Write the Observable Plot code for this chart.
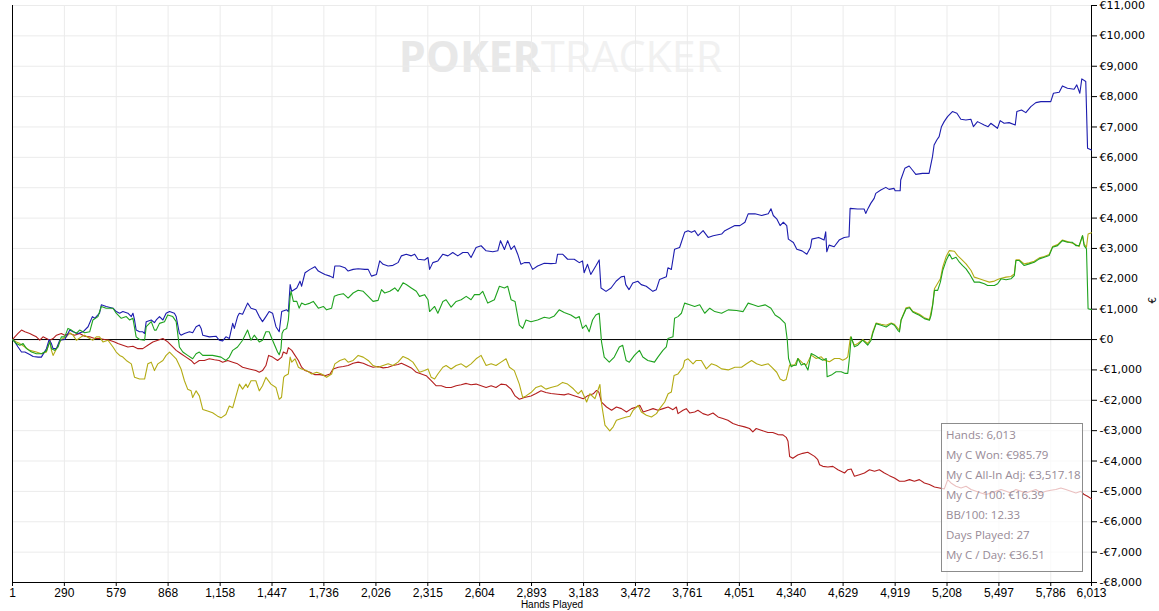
<!DOCTYPE html>
<html>
<head>
<meta charset="utf-8">
<script src="https://cdn.jsdelivr.net/npm/d3@7"></script>
<script src="https://cdn.jsdelivr.net/npm/@observablehq/plot@0.6"></script>
<style>
  html, body { margin: 0; padding: 0; background: #ffffff; }
  #wrap { position: relative; width: 1159px; height: 611px; overflow: hidden; }
  #wrap svg { position: absolute; left: 0; top: 0; }
  g[aria-label="x-axis tick label"] text { font-family: "Liberation Sans Narrow", "Liberation Sans", Arial, sans-serif; font-size: 12px; }
  g[aria-label="y-axis tick label"] text { font-family: "DejaVu Sans", sans-serif; font-size: 11px; }
  #stats { position: absolute; left: 941px; top: 423px; width: 140px; height: 147px;
    border: 1.5px solid #8c8c8c; background: rgba(255,255,255,0.72);
    font-family: "Open Sans", "Noto Sans", sans-serif; font-size: 11.5px; color: #978a96; }
  #stats div { position: absolute; left: 4px; white-space: nowrap; }
</style>
</head>
<body>
<div id="wrap"></div>
<script>
// ---- data -------------------------------------------------------------
const xTicks = [1, 290, 579, 868, 1158, 1447, 1736, 2026, 2315, 2604, 2893, 3183, 3472, 3761, 4051, 4340, 4629, 4919, 5208, 5497, 5786, 6013];
const yTicks = [-8000, -7000, -6000, -5000, -4000, -3000, -2000, -1000, 0, 1000, 2000, 3000, 4000, 5000, 6000, 7000, 8000, 9000, 10000, 11000];

const seriesNames = ["Showdown Won", "Non-Showdown Won", "All-In Adj", "My C Won"];
const seriesColors = ["#1c1cae", "#b31e1e", "#b3ab14", "#1fa31f"];

const statsLines = ["Hands: 6,013", "My C Won: €985.79", "My C All-In Adj: €3,517.18", "My C / 100: €16.39", "BB/100: 12.33", "Days Played: 27", "My C / Day: €36.51"];

// [hands played, €]
const showdownWon = [[1,0],[14,-78],[32,-244],[51,-411],[70,-411],[97,-489],[116,-556],[144,-578],[162,-578],[171,-489],[190,-300],[205,0],[218,-133],[227,-300],[246,-300],[264,-22],[292,0],[320,311],[338,256],[366,200],[394,256],[422,422],[446,756],[459,700],[486,867],[496,1144],[523,1089],[561,1033],[579,922],[598,867],[616,922],[644,867],[663,756],[672,867],[681,644],[690,311],[709,256],[727,256],[737,200],[746,589],[774,644],[792,556],[802,644],[820,756],[839,644],[857,867],[876,922],[903,867],[913,756],[931,200],[940,144],[959,200],[987,256],[1005,222],[1024,422],[1042,478],[1052,367],[1061,144],[1098,89],[1135,111],[1153,-22],[1172,-44],[1190,89],[1209,33],[1228,533],[1237,367],[1255,756],[1265,867],[1283,833],[1311,1200],[1330,1033],[1357,978],[1376,756],[1394,589],[1413,756],[1431,922],[1450,867],[1469,422],[1487,256],[1501,922],[1529,978],[1538,922],[1548,1811],[1557,1589],[1585,1700],[1603,1922],[1612,1756],[1631,2200],[1659,2311],[1686,2400],[1705,2256],[1723,2200],[1742,2144],[1770,2089],[1788,2033],[1797,2422],[1825,2422],[1853,2367],[1871,2256],[1899,2311],[1927,2333],[1964,2311],[1983,2311],[2001,2089],[2029,2144],[2047,2589],[2066,2478],[2094,2422],[2121,2444],[2149,2533],[2168,2756],[2195,2811],[2223,2756],[2242,2811],[2260,2644],[2297,2622],[2316,2700],[2325,2311],[2343,2533],[2371,2589],[2399,2811],[2427,2756],[2454,2867],[2482,2756],[2510,2867],[2538,2867],[2556,2700],[2584,3033],[2612,3089],[2640,2922],[2677,2889],[2705,2922],[2720,3256],[2742,2967],[2760,3256],[2779,2967],[2797,3089],[2816,2811],[2834,2478],[2853,2533],[2881,2533],[2899,2311],[2927,2422],[2964,2511],[3001,2500],[3029,2511],[3038,2811],[3066,2811],[3094,2644],[3131,2644],[3159,2533],[3177,2589],[3186,2200],[3205,2478],[3223,2144],[3251,2422],[3270,2622],[3280,1698],[3308,1587],[3336,1698],[3364,1920],[3392,2065],[3410,2087],[3418,1809],[3436,1643],[3457,1865],[3485,1920],[3504,1809],[3532,1754],[3569,1587],[3588,1643],[3606,1976],[3644,2065],[3653,2364],[3672,2309],[3690,2975],[3718,3030],[3746,3530],[3765,3585],[3784,3530],[3802,3585],[3821,3419],[3849,3585],[3877,3363],[3905,3419],[3952,3474],[3970,3585],[4026,3752],[4054,3752],[4082,3863],[4100,4140],[4138,4140],[4175,4085],[4212,4140],[4227,4307],[4240,4085],[4259,3974],[4278,3752],[4296,3863],[4315,3752],[4324,3308],[4352,3197],[4371,2975],[4400,2920],[4427,2808],[4447,3030],[4455,3308],[4493,3363],[4523,3275],[4532,3550],[4538,2890],[4551,3110],[4579,3055],[4607,3275],[4635,3363],[4662,3385],[4668,4319],[4709,4297],[4746,4297],[4755,4154],[4768,4319],[4783,4484],[4802,4649],[4811,4814],[4839,4923],[4867,5011],[4885,4945],[4913,4978],[4919,4901],[4947,4901],[4950,5253],[4973,5638],[4997,5714],[5015,5583],[5034,5440],[5071,5473],[5108,5473],[5127,6022],[5136,6407],[5151,6572],[5164,6682],[5177,7011],[5192,7176],[5211,7341],[5238,7506],[5263,7451],[5285,7253],[5313,7231],[5341,7253],[5355,7011],[5378,7176],[5415,7066],[5437,7011],[5452,7121],[5489,6956],[5504,7209],[5526,7121],[5554,7143],[5588,7066],[5597,7506],[5623,7561],[5647,7473],[5675,7671],[5703,7803],[5731,7836],[5786,7836],[5801,8111],[5833,8143],[5851,8352],[5879,8275],[5916,8242],[5931,8385],[5948,8111],[5959,8583],[5981,8495],[5991,6297],[6013,6242]];

const nonShowdownWon = [[1,0],[14,89],[32,200],[51,311],[70,256],[97,200],[116,144],[134,89],[153,-22],[171,89],[190,33],[209,-22],[227,33],[246,144],[273,200],[292,144],[320,200],[347,144],[375,200],[403,111],[431,89],[459,33],[486,33],[514,0],[542,-22],[570,-78],[588,-133],[616,-189],[644,-244],[672,-222],[700,-300],[727,-300],[755,-189],[783,-78],[811,-22],[839,33],[866,-78],[894,-244],[913,-356],[940,-467],[968,-578],[996,-689],[1014,-800],[1042,-689],[1070,-689],[1098,-633],[1126,-667],[1153,-689],[1172,-744],[1200,-689],[1228,-744],[1255,-800],[1283,-911],[1320,-967],[1357,-1022],[1376,-1078],[1394,-1022],[1413,-856],[1428,-522],[1450,-578],[1478,-689],[1501,-578],[1510,-411],[1529,-467],[1538,-267],[1557,-356],[1575,-522],[1594,-689],[1612,-911],[1631,-1022],[1659,-1078],[1686,-1156],[1714,-1156],[1742,-1189],[1770,-1133],[1788,-967],[1816,-911],[1844,-889],[1871,-856],[1899,-778],[1927,-744],[1955,-778],[1983,-856],[2010,-911],[2038,-889],[2066,-933],[2094,-911],[2121,-856],[2149,-822],[2168,-778],[2195,-856],[2223,-933],[2251,-1078],[2279,-1133],[2306,-1189],[2334,-1356],[2362,-1522],[2390,-1522],[2417,-1578],[2445,-1578],[2473,-1522],[2501,-1489],[2529,-1444],[2556,-1489],[2584,-1467],[2612,-1522],[2640,-1578],[2668,-1522],[2695,-1578],[2723,-1467],[2751,-1489],[2779,-1633],[2801,-1856],[2825,-1967],[2853,-1911],[2890,-1856],[2918,-1778],[2946,-1689],[2973,-1744],[3001,-1778],[3038,-1800],[3075,-1822],[3098,-1785],[3126,-1839],[3153,-1894],[3181,-1948],[3209,-1839],[3237,-1785],[3255,-1676],[3268,-1730],[3283,-2057],[3311,-2221],[3339,-2330],[3366,-2221],[3394,-2275],[3422,-2384],[3450,-2275],[3478,-2221],[3496,-2166],[3515,-2384],[3544,-2330],[3570,-2275],[3598,-2330],[3626,-2275],[3654,-2221],[3681,-2308],[3700,-2221],[3709,-2439],[3737,-2330],[3755,-2275],[3774,-2417],[3802,-2384],[3820,-2330],[3848,-2439],[3876,-2493],[3904,-2417],[3932,-2548],[3959,-2602],[3987,-2657],[4015,-2766],[4043,-2820],[4080,-2875],[4108,-2929],[4126,-3038],[4145,-2929],[4172,-2984],[4210,-3060],[4237,-3060],[4266,-3130],[4294,-3140],[4312,-3220],[4322,-3350],[4331,-3850],[4349,-3911],[4376,-3802],[4404,-3747],[4432,-3710],[4470,-3847],[4488,-3957],[4498,-4121],[4516,-4175],[4544,-4197],[4572,-4175],[4600,-4285],[4637,-4394],[4655,-4285],[4674,-4263],[4692,-4503],[4720,-4449],[4748,-4394],[4776,-4285],[4804,-4339],[4831,-4285],[4859,-4394],[4887,-4481],[4915,-4558],[4943,-4667],[4971,-4667],[4999,-4612],[5026,-4667],[5054,-4612],[5082,-4722],[5110,-4776],[5138,-4853],[5166,-4886],[5193,-4918],[5212,-4612],[5230,-4722],[5258,-4831],[5286,-4886],[5314,-4831],[5342,-4940],[5370,-4995],[5397,-5050],[5425,-5104],[5453,-5050],[5481,-4995],[5509,-4940],[5537,-4995],[5564,-5050],[5592,-4940],[5620,-4995],[5648,-5050],[5675,-4995],[5703,-4940],[5731,-5050],[5759,-4995],[5787,-4962],[5814,-4940],[5842,-4886],[5870,-4940],[5898,-4995],[5926,-5050],[5954,-4995],[5972,-5104],[5991,-5159],[6013,-5246]];

const allInAdj = [[1,0],[23,-78],[42,-133],[70,-244],[97,-356],[134,-411],[162,-467],[190,-411],[209,-22],[218,-356],[227,-522],[242,-356],[255,-189],[273,0],[301,89],[320,222],[338,144],[357,-22],[384,89],[403,144],[431,33],[449,-22],[468,89],[486,89],[505,-78],[533,-22],[561,-244],[579,-411],[598,-522],[616,-578],[635,-689],[663,-800],[681,-1244],[709,-1300],[737,-1300],[755,-800],[774,-744],[792,-1022],[811,-800],[839,-689],[857,-522],[876,-411],[894,-522],[913,-633],[940,-967],[959,-1356],[977,-1633],[996,-1689],[1005,-1911],[1024,-1689],[1042,-1856],[1061,-2300],[1088,-2356],[1116,-2411],[1144,-2522],[1163,-2578],[1190,-2467],[1209,-2189],[1228,-2244],[1265,-1467],[1283,-1633],[1302,-1467],[1311,-1578],[1330,-1356],[1357,-1356],[1376,-1689],[1394,-1522],[1413,-1244],[1441,-1467],[1469,-1578],[1487,-1967],[1500,-1900],[1512,-1244],[1520,-1189],[1538,-1133],[1548,-578],[1557,-744],[1575,-633],[1594,-911],[1612,-967],[1640,-1022],[1668,-1133],[1696,-1078],[1723,-1133],[1751,-1244],[1779,-1133],[1797,-800],[1825,-689],[1853,-633],[1871,-744],[1899,-689],[1927,-522],[1955,-578],[1983,-689],[2010,-856],[2038,-911],[2066,-856],[2094,-800],[2121,-856],[2149,-744],[2177,-556],[2205,-633],[2232,-744],[2251,-911],[2269,-1078],[2297,-1022],[2316,-967],[2334,-1244],[2353,-1300],[2371,-1133],[2399,-911],[2417,-856],[2445,-967],[2473,-856],[2501,-800],[2529,-911],[2556,-800],[2584,-633],[2612,-522],[2640,-856],[2668,-800],[2695,-856],[2723,-744],[2751,-633],[2770,-911],[2797,-1022],[2825,-1467],[2844,-1911],[2862,-1856],[2890,-1744],[2918,-1578],[2946,-1522],[2973,-1633],[3001,-1578],[3038,-1522],[3066,-1411],[3094,-1467],[3126,-1621],[3153,-1785],[3172,-1676],[3200,-2057],[3218,-1785],[3246,-1948],[3274,-1480],[3283,-2112],[3302,-2820],[3329,-3006],[3348,-2875],[3366,-2657],[3394,-2602],[3422,-2548],[3441,-2526],[3459,-2330],[3487,-2166],[3505,-2384],[3533,-2493],[3561,-2548],[3589,-2439],[3607,-2275],[3635,-2057],[3654,-1785],[3672,-1730],[3687,-1185],[3709,-1131],[3737,-913],[3746,-688],[3765,-633],[3793,-799],[3811,-688],[3839,-688],[3867,-966],[3895,-799],[3923,-855],[3952,-966],[3989,-999],[4026,-910],[4063,-910],[4091,-799],[4119,-688],[4147,-799],[4175,-855],[4212,-799],[4231,-910],[4259,-1077],[4278,-1299],[4296,-1354],[4312,-1312],[4331,-842],[4359,-842],[4377,-623],[4405,-787],[4424,-842],[4451,-514],[4479,-623],[4507,-568],[4525,-678],[4553,-732],[4581,-623],[4609,-623],[4627,-678],[4646,-623],[4655,-568],[4670,87],[4692,-186],[4711,-131],[4738,0],[4766,-131],[4785,33],[4794,251],[4813,547],[4841,503],[4869,470],[4897,547],[4915,503],[4943,306],[4952,656],[4980,1049],[4999,1071],[5017,929],[5054,831],[5082,721],[5110,656],[5128,1159],[5138,1672],[5171,2000],[5184,2383],[5203,2733],[5221,2929],[5249,2907],[5267,2765],[5286,2656],[5314,2492],[5342,2273],[5360,2055],[5388,2000],[5416,1946],[5444,1891],[5472,1924],[5500,2000],[5537,2055],[5564,2077],[5583,2164],[5592,2623],[5611,2623],[5638,2492],[5666,2525],[5694,2580],[5722,2689],[5750,2733],[5777,2798],[5796,3060],[5824,3126],[5851,3279],[5879,3224],[5907,3170],[5926,3126],[5944,3060],[5963,3421],[5972,3148],[5985,3039],[5994,3476],[6013,3517]];

const myCWon = [[1,0],[23,-133],[42,-189],[60,-133],[79,-300],[107,-411],[134,-467],[162,-467],[190,-378],[209,-78],[218,-300],[236,-356],[255,-244],[273,89],[292,89],[310,367],[329,311],[357,200],[375,311],[403,222],[431,256],[449,644],[477,756],[496,1089],[523,1033],[561,1033],[579,867],[607,700],[635,756],[653,644],[672,700],[690,89],[709,0],[737,-22],[746,422],[774,589],[792,311],[802,311],[820,533],[848,589],[866,811],[894,756],[913,589],[931,-244],[950,-411],[977,-522],[1005,-633],[1024,-467],[1042,-411],[1061,-522],[1116,-522],[1163,-578],[1190,-689],[1209,-578],[1228,-356],[1255,-244],[1283,-22],[1311,311],[1330,-22],[1348,144],[1376,-78],[1394,-22],[1413,256],[1431,256],[1450,-22],[1478,-411],[1487,-500],[1497,-300],[1503,200],[1512,311],[1529,367],[1538,644],[1548,1422],[1553,1589],[1566,1256],[1585,1256],[1598,1033],[1612,1200],[1631,1144],[1659,1200],[1677,1256],[1705,1033],[1733,1089],[1751,978],[1779,1033],[1794,1422],[1816,1478],[1844,1511],[1871,1367],[1899,1533],[1927,1622],[1955,1589],[1983,1422],[2010,1256],[2038,1289],[2057,1644],[2075,1533],[2103,1589],[2131,1700],[2149,1589],[2177,1867],[2195,1811],[2223,1700],[2251,1589],[2269,1422],[2297,1478],[2316,1311],[2325,922],[2353,1089],[2371,867],[2399,1256],[2417,1311],[2445,1067],[2473,1256],[2501,1311],[2529,1422],[2556,1311],[2575,1478],[2603,1478],[2621,1589],[2649,1200],[2686,1311],[2714,1756],[2742,1700],[2760,1756],[2779,1311],[2801,1256],[2825,478],[2844,367],[2862,644],[2890,589],[2927,644],[2964,733],[2992,700],[3020,778],[3047,978],[3075,889],[3112,811],[3140,700],[3159,756],[3177,367],[3196,478],[3214,256],[3233,644],[3251,811],[3270,867],[3283,-78],[3298,-577],[3326,-744],[3354,-577],[3382,-244],[3401,-189],[3420,-688],[3438,-744],[3466,-522],[3494,-355],[3513,-577],[3541,-688],[3578,-744],[3597,-577],[3625,-355],[3644,-244],[3653,33],[3681,89],[3690,699],[3709,755],[3728,866],[3746,1199],[3774,1143],[3802,1088],[3830,1143],[3858,866],[3886,1032],[3914,921],[3952,866],[3989,977],[4035,955],[4072,921],[4100,1199],[4128,1143],[4156,1088],[4194,1143],[4227,1032],[4250,810],[4278,699],[4306,533],[4318,-22],[4325,-623],[4340,-896],[4352,-855],[4368,-842],[4377,-623],[4396,-842],[4414,-787],[4433,-1006],[4451,-459],[4470,-514],[4498,-623],[4516,-678],[4535,-623],[4540,-1224],[4563,-1170],[4590,-1060],[4618,-1060],[4641,-1115],[4655,-1115],[4665,-568],[4674,87],[4692,-240],[4711,-186],[4738,-22],[4766,-186],[4785,-22],[4794,197],[4813,525],[4841,470],[4869,415],[4897,525],[4915,470],[4934,306],[4943,251],[4952,634],[4980,1016],[4999,1049],[5017,907],[5036,852],[5054,798],[5082,689],[5110,634],[5119,798],[5128,1126],[5138,1618],[5156,1618],[5171,1891],[5184,2273],[5203,2601],[5221,2820],[5236,2656],[5258,2711],[5277,2547],[5295,2437],[5314,2328],[5333,2164],[5360,1891],[5388,1891],[5416,1836],[5434,1782],[5453,1782],[5472,1782],[5490,1836],[5509,2000],[5537,1967],[5564,2000],[5583,2109],[5592,2601],[5611,2601],[5638,2437],[5666,2492],[5694,2547],[5722,2656],[5750,2711],[5777,2765],[5796,3039],[5824,3093],[5851,3257],[5879,3203],[5907,3203],[5926,3093],[5944,3093],[5963,3421],[5972,3093],[5985,2984],[5994,1016],[6013,986]];

// ---- chart ------------------------------------------------------------
const series = [nonShowdownWon, allInAdj, showdownWon, myCWon];
const seriesColorOf = [seriesColors[1], seriesColors[2], seriesColors[0], seriesColors[3]];
const euro = v => (v < 0 ? "-" : "") + "€" + d3.format(",")(Math.abs(v));

const chart = Plot.plot({
  width: 1159,
  height: 611,
  marginLeft: 12,
  marginRight: 68,
  marginTop: 5,
  marginBottom: 29,
  x: {domain: [1, 6013]},
  y: {domain: [-8000, 11000]},
  style: {background: "transparent", overflow: "visible"},
  marks: [
    Plot.text(["POKER"], {frameAnchor: "top", dx: -11, dy: 53, textAnchor: "end", lineAnchor: "middle",
      fontSize: 43, fontWeight: 700, fill: "#e8e8e8", fontFamily: "Open Sans, sans-serif"}),
    Plot.text(["TRACKER"], {frameAnchor: "top", dx: -11, dy: 53, textAnchor: "start", lineAnchor: "middle",
      fontSize: 43, fontWeight: 400, fill: "#f1f1f1", fontFamily: "Open Sans, sans-serif", letterSpacing: -3}),
    Plot.ruleX(xTicks, {stroke: "#ebebeb", strokeWidth: 1}),
    Plot.ruleY(yTicks, {stroke: "#ebebeb", strokeWidth: 1}),
    Plot.ruleY([0], {stroke: "#000", strokeWidth: 1}),
    Plot.ruleX([1], {stroke: "#000", strokeWidth: 1}),
    Plot.ruleX([6013], {stroke: "#000", strokeWidth: 1}),
    Plot.ruleY([-8000], {stroke: "#000", strokeWidth: 1}),
    Plot.axisX({ticks: xTicks, tickFormat: d3.format(","), tickSize: 4, tickPadding: 2, label: null, stroke: "#000", fill: "#000"}),
    Plot.axisY({anchor: "right", ticks: yTicks, tickFormat: euro, tickSize: 5, tickPadding: 3, label: null, stroke: "#000", fill: "#000"}),
    Plot.text(["€"], {frameAnchor: "right", dx: 61, dy: 3, rotate: -90, fontSize: 10, fill: "#000", fontFamily: "DejaVu Sans, sans-serif"}),
    Plot.text(["Hands Played"], {frameAnchor: "bottom", dy: 18, lineAnchor: "top", fontSize: 10, fill: "#000", fontFamily: "Liberation Sans, Arial, sans-serif"}),
    ...series.map((s, i) => Plot.line(s, {x: d => d[0], y: d => d[1], stroke: seriesColorOf[i], strokeWidth: 1.1}))
  ]
});

const wrap = document.getElementById("wrap");
wrap.appendChild(chart);

const stats = document.createElement("div");
stats.id = "stats";
statsLines.forEach((t, i) => {
  const d = document.createElement("div");
  d.textContent = t;
  d.style.top = (3 + i * 20) + "px";
  stats.appendChild(d);
});
wrap.appendChild(stats);
</script>
</body>
</html>
